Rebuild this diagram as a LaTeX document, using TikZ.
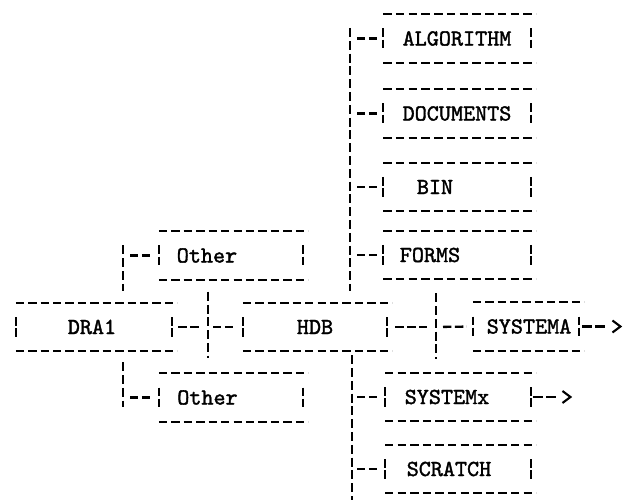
\documentclass[tikz,border=0pt]{standalone}
\usepackage{fontspec}
\usepackage{tikz}
\usetikzlibrary{arrows.meta, positioning, calc, decorations}
\newfontfamily\typewriter{lmmono10-regular.otf}[FakeBold=1.6]
\newcommand\boxfont{\typewriter\fontsize{23}{27}\selectfont}
\tikzset{
  hrule/.style={line width=2.3pt, dash pattern=on 8.4pt off 3.5pt},
  framerule/.style={hrule, dash expand off},
  vrule/.style={line width=2pt, dash pattern=on 9pt off 3.8pt},
  sidebar/.style={line width=2pt, dash pattern=on 8.6pt off 2.6pt},
  tbox/.style={
    font=\boxfont, inner sep=0pt, minimum height=48pt,
    append after command={
      \pgfextra{\let\tboxnode\tikzlastnode}
      ([xshift=-4pt]\tboxnode.north west) edge[draw, framerule] ([xshift=5pt]\tboxnode.north east)
      ([xshift=-4pt]\tboxnode.south west) edge[draw, framerule] ([xshift=5pt]\tboxnode.south east)
      ([yshift=10pt]\tboxnode.west) edge[draw, sidebar] ([yshift=-10pt]\tboxnode.west)
      ([yshift=10pt]\tboxnode.east) edge[draw, sidebar] ([yshift=-10pt]\tboxnode.east)
    }
  },
  shift text/.style={execute at begin node={\hspace*{#1}}},
  outarrow/.style={
    line width=2.1pt, dash pattern=on 9.5pt off 3.5pt on 9.5pt off 40pt,
    -{Straight Barb[length=8pt, width=12pt]}
  }
}
\begin{document}
\begin{tikzpicture}[x=1pt, y=-1pt]
  \useasboundingbox (0,0) rectangle (630,500);

  % boxes
  \node[tbox, minimum width=148pt] (alg) at (457,38.5) {ALGORITHM};
  \node[tbox, minimum width=148pt] (doc) at (457,113.5) {DOCUMENTS};
  \node[tbox, minimum width=148pt, shift text=-44pt] (bin) at (457,187) {BIN};
  \node[tbox, minimum width=148pt, shift text=-54pt] (frm) at (457,255) {FORMS};
  \node[tbox, minimum width=144pt, shift text=-48pt] (upO) at (231,255.5) {Other};
  \node[tbox, minimum width=156pt, shift text=-4pt] (dra) at (94,327) {DRA1};
  \node[tbox, minimum width=144pt] (hdb) at (315,327) {HDB};
  \node[tbox, minimum width=106pt, shift text=6pt] (sya) at (526,326.5) {SYSTEMA};
  \node[tbox, minimum width=144pt, shift text=-47pt] (loO) at (231,397.5) {Other};
  \node[tbox, minimum width=146pt, shift text=-22pt] (syx) at (458,397) {SYSTEMx};
  \node[tbox, minimum width=146pt, shift text=-18pt] (scr) at (458,469) {SCRATCH};

  % junctions and trunks
  \coordinate (jL) at (208,327);
  \coordinate (jR) at (436,327);
  \coordinate (tA) at (123,0);
  \coordinate (tU) at (350,28);
  \coordinate (tD) at (352,500);
  \coordinate[right=43pt of sya.east] (outA);
  \coordinate[right=41pt of syx.east] (outX);

  % DRA1 side
  \draw[vrule, shorten <=-10pt, shorten >=12pt] (tA |- upO) -- (tA |- dra.north);
  \draw[vrule, shorten <=11pt, shorten >=-9pt] (tA |- dra.south) -- (tA |- loO);
  \draw[hrule, shorten <=7pt, shorten >=7pt] (tA |- upO) -- (upO.west);
  \draw[hrule, shorten <=7pt, shorten >=7pt] (tA |- loO) -- (loO.west);
  \draw[vrule, shorten <=12pt, shorten >=15pt] (jL |- upO.south) -- (jL |- loO.north);
  \draw[hrule, shorten <=6pt, shorten >=8pt] (dra.east) -- (jL);
  \draw[hrule, shorten <=5pt, shorten >=8pt] (jL) -- (hdb.west);

  % HDB side
  \draw[vrule, shorten >=12pt] (tU) -- (tU |- hdb.north);
  \foreach \b in {alg,doc,bin,frm}
    \draw[hrule, shorten <=7pt, shorten >=6pt] (tU |- \b) -- (\b.west);
  \draw[vrule, shorten <=4pt] (tD |- hdb.south) -- (tD);
  \foreach \b in {syx,scr}
    \draw[hrule, shorten <=5pt, shorten >=8pt] (tD |- \b) -- (\b.west);
  \draw[hrule, shorten <=8pt, shorten >=6pt] (hdb.east) -- (jR);
  \draw[vrule, shorten <=14pt, shorten >=14pt] (jR |- frm.south) -- (jR |- syx.north);
  \draw[hrule, shorten <=7pt, shorten >=6pt] (jR) -- (sya.west);
  \draw[outarrow, shorten <=3pt] (sya.east) -- (outA);
  \draw[outarrow, shorten <=2pt] (syx.east) -- (outX);
\end{tikzpicture}
\end{document}
